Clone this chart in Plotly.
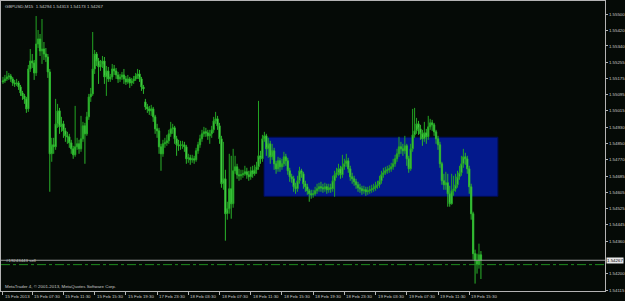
import plotly.graph_objects as go

# ---- data (prices in 1e-5 units, GBPUSD M15) ----
opens_pts = [155160,155165,155175,155185,155190,155175,155155,155150,155155,155135,
155105,155090,155075,155025,155225,155265,155255,155205,155350,155375,
155315,155325,155300,155285,155210,154800,154845,154835,154950,155015,
154935,154950,154915,154890,154885,154855,154825,154795,154835,154850,
154825,154875,154940,154900,154985,155085,155100,155225,155300,155265,
155235,155250,155265,155185,155215,155175,155185,155225,155215,155195,
155175,155185,155195,155175,155160,155175,155155,155165,155175,155190,
155200,155175,155135,155060,155035,155025,155015,155025,154985,154925,
154915,154835,154800,154850,154855,154865,154900,154925,154930,154875,
154845,154840,154845,154845,154835,154775,154780,154770,154775,154770,
154815,154845,154875,154900,154910,154905,154890,154900,154920,154965,
154975,154940,154875,154650,154675,154500,154525,154625,154550,154715,
154735,154695,154690,154695,154700,154710,154695,154685,154715,154700,
154720,154735,154790,154775,154875,154890,154825,154850,154785,154815,
154750,154725,154765,154735,154750,154785,154765,154715,154685,154675,
154635,154625,154665,154715,154700,154650,154635,154615,154600,154595,
154600,154615,154625,154635,154630,154625,154635,154620,154630,154625,
154665,154695,154705,154725,154695,154735,154750,154765,154725,154685,
154675,154660,154645,154630,154625,154615,154620,154610,154615,154620,
154625,154630,154640,154645,154665,154695,154705,154715,154720,154725,
154735,154750,154775,154800,154835,154825,154815,154840,154775,154725,
154825,154895,154915,154950,154925,154900,154875,154905,154885,154935,
154955,154945,154910,154875,154845,154750,154665,154645,154655,154600,
154550,154615,154625,154645,154685,154705,154750,154785,154775,154725,
154635,154500,154300,154265,154245,154294]

closes_pts = [155165,155175,155185,155190,155175,155155,155150,155155,155135,155105,
155090,155075,155025,155225,155265,155255,155205,155350,155375,155315,
155325,155300,155285,155210,154800,154845,154835,154950,155015,154935,
154950,154915,154890,154885,154855,154825,154795,154835,154850,154825,
154875,154940,154900,154985,155085,155100,155225,155300,155265,155235,
155250,155265,155185,155215,155175,155185,155225,155215,155195,155175,
155185,155195,155175,155160,155175,155155,155165,155175,155190,155200,
155175,155135,155125,155035,155025,155015,155025,154985,154925,154915,
154835,154800,154850,154855,154865,154900,154925,154930,154875,154845,
154840,154845,154845,154835,154775,154780,154770,154775,154770,154815,
154845,154875,154900,154910,154905,154890,154900,154920,154965,154975,
154940,154875,154650,154675,154500,154525,154625,154550,154715,154735,
154695,154690,154695,154700,154710,154695,154685,154715,154700,154720,
154735,154790,154775,154875,154890,154825,154850,154785,154815,154750,
154725,154765,154735,154750,154785,154765,154715,154685,154675,154635,
154625,154665,154715,154700,154650,154635,154615,154600,154595,154600,
154615,154625,154635,154630,154625,154635,154620,154630,154625,154665,
154695,154705,154725,154695,154735,154750,154765,154725,154685,154675,
154660,154645,154630,154625,154615,154620,154610,154615,154620,154625,
154630,154640,154645,154665,154695,154705,154715,154720,154725,154735,
154750,154775,154800,154835,154825,154815,154840,154775,154725,154825,
154895,154915,154950,154925,154900,154875,154905,154885,154935,154955,
154945,154910,154875,154845,154750,154665,154645,154655,154600,154550,
154615,154625,154645,154685,154705,154750,154785,154775,154725,154635,
154500,154300,154265,154245,154294,154267]

highs_pts = [155185,155195,155215,155205,155200,155185,155170,155175,155165,155145,
155115,155100,155085,155245,155325,155300,155270,155490,155420,155400,
155475,155360,155330,155300,155225,154880,154880,155075,155050,155030,
154985,154965,154930,154910,154900,154870,154840,155040,154880,154870,
154990,154960,154955,155010,155100,155130,155410,155320,155310,155280,
155270,155290,155285,155240,155235,155200,155250,155245,155230,155210,
155200,155210,155225,155190,155195,155185,155180,155190,155205,155225,
155220,155185,155145,155075,155050,155040,155045,155035,154995,154950,
154930,154850,154870,154880,154895,154920,154960,154950,154940,154890,
154870,154865,154865,154860,154845,154800,154795,154795,154790,154830,
154860,154895,154920,154935,154930,154920,154920,154940,154985,155010,
154990,154955,154890,154860,154720,154560,154800,154790,154825,154790,
154750,154725,154720,154720,154740,154730,154715,154735,154740,154745,
154760,155065,154815,154895,154910,154900,154880,154865,154850,154830,
154765,154785,154780,154775,154810,154800,154780,154730,154700,154690,
154655,154690,154735,154725,154710,154665,154650,154625,154620,154620,
154635,154650,154655,154660,154650,154655,154650,154650,154650,154690,
154715,154730,154750,154740,154795,154775,154800,154780,154740,154705,
154690,154675,154660,154650,154640,154640,154635,154635,154640,154645,
154650,154660,154665,154690,154715,154730,154735,154740,154745,154755,
154775,154795,154825,154885,154860,154850,154890,154850,154790,154850,
155025,155030,154980,154965,154945,154920,154960,154925,154990,154975,
154970,154955,154920,154890,154860,154760,154700,154710,154700,154640,
154700,154690,154700,154715,154740,154790,154825,154805,154790,154740,
154650,154510,154320,154300,154350,154313]

lows_pts = [155150,155155,155165,155170,155160,155140,155135,155140,155120,155090,
155070,155050,155005,155010,155210,155230,155170,155190,155330,155290,
155250,155270,155260,155180,154610,154760,154800,154820,154930,154900,
154910,154880,154860,154850,154830,154800,154775,154785,154820,154800,
154810,154860,154750,154890,154970,155060,155090,155200,155240,155150,
155215,155230,155150,155090,155160,155160,155170,155195,155175,155155,
155160,155170,155150,155145,155150,155130,155140,155150,155165,155175,
155160,155115,155100,155020,155005,154995,154990,154960,154900,154880,
154800,154715,154785,154830,154840,154850,154885,154900,154850,154790,
154815,154820,154825,154810,154750,154755,154745,154755,154750,154760,
154800,154830,154860,154885,154885,154870,154850,154880,154905,154950,
154920,154850,154630,154620,154365,154470,154500,154475,154530,154700,
154675,154665,154670,154680,154690,154675,154665,154670,154680,154690,
154700,154720,154750,154760,154860,154790,154780,154750,154770,154720,
154700,154710,154710,154720,154735,154740,154695,154660,154655,154610,
154600,154610,154650,154680,154625,154610,154595,154560,154575,154580,
154590,154600,154610,154610,154605,154610,154600,154605,154605,154610,
154585,154680,154690,154675,154680,154720,154735,154705,154665,154650,
154640,154625,154610,154605,154595,154600,154590,154595,154600,154605,
154610,154615,154625,154630,154650,154680,154695,154700,154705,154710,
154720,154735,154760,154785,154800,154790,154800,154740,154705,154715,
154810,154880,154900,154895,154870,154840,154860,154850,154870,154920,
154915,154890,154850,154820,154730,154645,154620,154620,154535,154535,
154545,154590,154610,154630,154670,154690,154730,154745,154700,154600,
154470,154270,154150,154200,154225,154173]

time_label_bars = [0, 15, 31, 47, 63, 79, 95, 111, 127, 143, 159, 175, 191, 207, 223, 239]
time_labels = ["15 Feb 2013", "15 Feb 07:30", "15 Feb 11:30", "15 Feb 15:30", "15 Feb 19:30",
               "17 Feb 23:30", "18 Feb 03:30", "18 Feb 07:30", "18 Feb 11:30", "18 Feb 15:30",
               "18 Feb 19:30", "18 Feb 23:30", "19 Feb 03:30", "19 Feb 07:30", "19 Feb 11:30",
               "19 Feb 15:30"]
price_ticks = [1.55500, 1.55420, 1.55340, 1.55255, 1.55175, 1.55095, 1.55015, 1.54930,
               1.54850, 1.54770, 1.54685, 1.54605, 1.54525, 1.54445, 1.54360, 1.54200, 1.54115]
last_price = 1.54267
order_price = 1.54245
order_label = "#19243443 sell"
box_bars = [133.8, 253.7]
box_prices = [1.54587, 1.54883]
header = "GBPUSD,M15  1.54294 1.54313 1.54173 1.54267"
footer = "MetaTrader 4, © 2001-2013, MetaQuotes Software Corp."

opens = [v / 1e5 for v in opens_pts]
closes = [v / 1e5 for v in closes_pts]
highs = [v / 1e5 for v in highs_pts]
lows = [v / 1e5 for v in lows_pts]
bars = list(range(len(closes)))

BG = "#050a06"
FG = "#c8c8c8"
AX = "#b4b4b4"
FONT = "Liberation Sans"
FS = 4.4

fig = go.Figure()
fig.add_trace(go.Candlestick(
    x=bars, open=opens, high=highs, low=lows, close=closes,
    increasing=dict(line=dict(color="#23a523", width=1), fillcolor="#55e055"),
    decreasing=dict(line=dict(color="#2cb52c", width=1), fillcolor="#66ea66"),
    whiskerwidth=0, showlegend=False, hoverinfo="skip",
))

shapes = [
    dict(type="rect", xref="x", yref="y", x0=box_bars[0], x1=box_bars[1],
         y0=box_prices[0], y1=box_prices[1], fillcolor="#03198c",
         line=dict(color="#000c55", width=1), layer="below"),
    dict(type="line", xref="paper", yref="y", x0=0, x1=1, y0=last_price, y1=last_price,
         line=dict(color="#9a9a9a", width=1)),
    dict(type="line", xref="paper", yref="y", x0=0, x1=1, y0=order_price, y1=order_price,
         line=dict(color="#1e8c1e", width=1, dash="dashdot")),
]

annotations = []
for b, t in zip(time_label_bars, time_labels):
    annotations.append(dict(x=b, xref="x", y=0, yref="paper", text=t, showarrow=False,
                            xanchor="left", yanchor="top", yshift=-1, xshift=0,
                            font=dict(family=FONT, size=FS, color=FG)))
annotations.append(dict(x=0, xref="paper", y=1, yref="paper", text=header, showarrow=False,
                        xanchor="left", yanchor="top", xshift=2, yshift=-1,
                        font=dict(family=FONT, size=FS, color=FG)))
annotations.append(dict(x=0, xref="paper", y=0, yref="paper", text=footer, showarrow=False,
                        xanchor="left", yanchor="bottom", xshift=2, yshift=0,
                        font=dict(family=FONT, size=FS, color=FG)))
annotations.append(dict(x=0, xref="paper", y=order_price, yref="y", text=order_label,
                        showarrow=False, xanchor="left", yanchor="bottom", xshift=3, yshift=0,
                        font=dict(family=FONT, size=FS, color=FG)))
annotations.append(dict(x=1, xref="paper", y=last_price, yref="y", text="%.5f" % last_price,
                        showarrow=False, xanchor="left", yanchor="middle", xshift=1,
                        bgcolor="#e8e8e8", borderpad=0,
                        font=dict(family=FONT, size=FS, color="#000000")))

fig.update_layout(
    width=625, height=301,
    margin=dict(l=1, r=20, t=1, b=10, autoexpand=False),
    paper_bgcolor=BG, plot_bgcolor=BG,
    boxgap=0.05,
    shapes=shapes, annotations=annotations,
    xaxis=dict(range=[-1.01, 308.6], showgrid=False, zeroline=False,
               rangeslider=dict(visible=False), showline=True, mirror=True,
               linecolor=AX, linewidth=1, ticks="outside", ticklen=3, tickcolor=AX,
               tickvals=time_label_bars, showticklabels=False, fixedrange=True),
    yaxis=dict(range=[1.54113, 1.555652], side="right", showgrid=False, zeroline=False,
               showline=True, mirror=True, linecolor=AX, linewidth=1,
               ticks="outside", ticklen=2, tickcolor=AX, tickvals=price_ticks,
               tickformat=".5f", ticklabelstandoff=0,
               tickfont=dict(family=FONT, size=FS, color=FG), fixedrange=True),
    font=dict(family=FONT, size=FS, color=FG),
)

fig.write_html("out.html")
